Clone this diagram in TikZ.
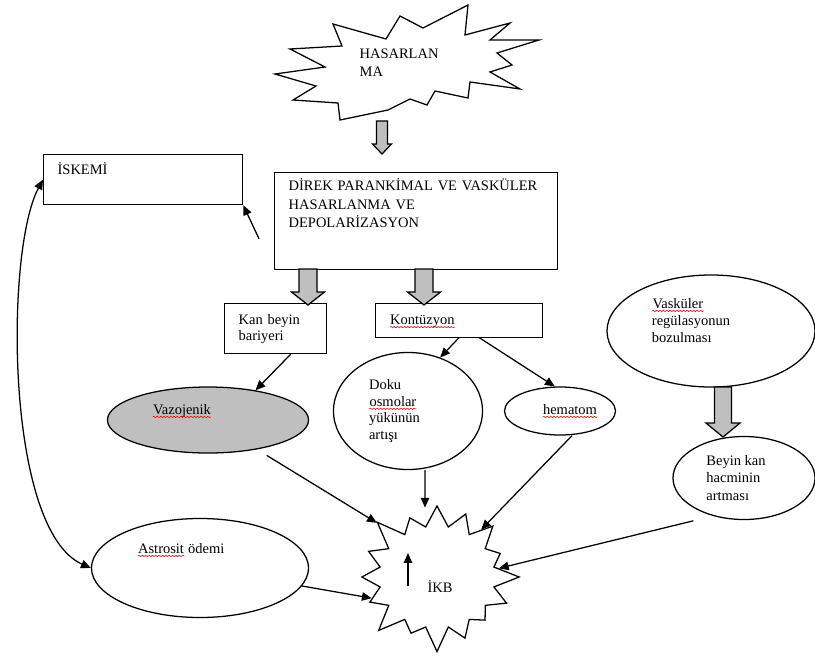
\documentclass[tikz,border=0pt]{standalone}
\usepackage{fontspec}
\setmainfont{Liberation Serif}
\usepackage{xcolor}
\usetikzlibrary{shapes.geometric,shapes.symbols,arrows.meta,positioning,calc,decorations.pathmorphing}

% red wavy spell-check line under a word
\newcommand{\spellerr}[1]{\tikz[baseline=(w.base)]{\node[inner sep=0pt] (w) {#1};
  \draw[red, line width=0.4pt, decorate, decoration={snake, amplitude=0.5pt, segment length=2.4pt}]
    ([yshift=-2pt]w.base west) -- ([yshift=-2pt]w.base east);}}

% gray block arrow: from, to, half shaft, half head, head length (px)
\newcommand{\fatarrow}[5]{%
  \draw[fill=gray!50] ($(#1)+(-#3,0)$) -- ($(#2)+(-#3,-#5)$) -- ($(#2)+(-#4,-#5)$) -- (#2)
    -- ($(#2)+(#4,-#5)$) -- ($(#2)+(#3,-#5)$) -- ($(#1)+(#3,0)$) -- cycle;}

\tikzset{
  box/.style={rectangle, draw, align=left, inner xsep=0.35cm, inner ysep=0pt},
  oval/.style={ellipse, draw, inner sep=0pt},
}

\begin{document}
\begin{tikzpicture}[x=0.025cm, y=-0.025cm, line width=0.9pt, >={Triangle[length=7pt,width=6pt]}, font=\fontsize{10.3}{12.5}\selectfont]
    \useasboundingbox (0,0) rectangle (815,657);

    % top burst
    \draw (275,74) -- (316,86) -- (293,100) -- (338,103) -- (340,120) -- (388,110) -- (410,99) -- (427,105)
      -- (435,91) -- (468,98) -- (470,82) -- (520,89) -- (490,72) -- (512,65) -- (497,53) -- (539,40)
      -- (490,40) -- (510,23) -- (465,35) -- (468,5) -- (423,28) -- (400,16) -- (386,39) -- (333,24)
      -- (342,46) -- (290,49) -- (325,67) -- cycle;
    \node (hasar) [anchor=west, align=left, inner sep=0pt, font=\fontsize{10.3}{12.8}\selectfont] at (359,63) {HASARLAN\\MA};

    \node (iskemi) [box, anchor=north west, text width=4.275cm, text height=0.5cm, text depth=0.75cm] at (43,154) {İSKEMİ};
    \node (direk) [box, anchor=north west, text width=6.375cm, text height=0.45cm, text depth=1.975cm, font=\fontsize{10.3}{13.1}\selectfont] at (274,172) {DİREK PARANKİMAL VE VASKÜLER\\HASARLANMA VE\\DEPOLARİZASYON};
    \node (kan) [box, anchor=north west, text width=1.85cm, text height=0.525cm, text depth=0.725cm, font=\fontsize{10.3}{11.3}\selectfont] at (224,303) {Kan beyin\\bariyeri};
    \node (kont) [box, right=1.2cm of kan.north east, anchor=north west, text width=3.475cm, text height=0.525cm, text depth=0.325cm] {\spellerr{Kontüzyon}};

    \node (vazo) [oval, fill=gray!50, minimum width=5.025cm, minimum height=1.65cm, label={[xshift=-0.65cm, yshift=0.225cm]center:\spellerr{Vazojenik}}] at (208,420) {};
    \node (doku) [oval, minimum width=3.725cm, minimum height=2.925cm, label={[align=left, xshift=-0.34cm, font=\fontsize{10.3}{12}\selectfont]center:Doku\\\spellerr{osmolar}\\yükünün\\artışı}] at (408,411) {};
    \node (hemat) [oval, minimum width=2.775cm, minimum height=1.2cm, label={[xshift=0.25cm]center:\spellerr{hematom}}] at (560,411) {};
    \node (vask) [oval, minimum width=5.2cm, minimum height=2.8cm, label={[align=left, xshift=-0.5cm, yshift=0.26cm, font=\fontsize{10.3}{12.4}\selectfont]center:\spellerr{Vasküler}\\regülasyonun\\bozulması}] at (711,331) {};
    \node (beyin) [oval, minimum width=3.55cm, minimum height=2.075cm, label={[align=left, xshift=-0.2cm]center:Beyin kan\\hacminin\\artması}] at (744,478) {};
    \node (astro) [oval, minimum width=5.425cm, minimum height=2.475cm, label={[xshift=-0.475cm, yshift=0.45cm]center:\spellerr{Astrosit} ödemi}] at (200,568) {};
    \node (ikb) [starburst, draw, starburst points=16, starburst point height=0.7cm, minimum width=4.3cm, minimum height=3.95cm, inner sep=0pt, label={[xshift=0.075cm, yshift=-0.25cm]center:İKB}] at (437,577) {};

    % block arrows
    \coordinate (h1) at (382,121);
    \coordinate (h2) at (382,154);
    \coordinate (k1) at (308,269);
    \coordinate (k2) at (308,305);
    \coordinate (c1) at (424,269);
    \coordinate (c2) at (424,305);
    \coordinate (v1) at (723,387);
    \coordinate (v2) at (723,437);
    \fatarrow{h1}{h2}{5.5}{9.5}{10}
    \fatarrow{k1}{k2}{9}{16.5}{13}
    \fatarrow{c1}{c2}{9}{16.5}{13}
    \fatarrow{v1}{v2}{8.5}{17}{14}

    \draw [->] ([xshift=-0.375cm, yshift=-0.44cm]direk.west) -- (iskemi.south east);
    \draw [<->] (iskemi.west) .. controls (5,250) and (5,530) .. (astro.west);
    \draw [->] ([xshift=0.375cm]kan.south) -- (vazo.32);
    \draw [->] (kont.south) -- (doku.59);
    \draw [->] ([xshift=0.5cm]kont.south) -- (hemat.102);
    \draw [->] ([yshift=-0.2cm]vazo.-25) -- (ikb.138);
    \draw [->] ([xshift=0.425cm]doku.south) -- ([xshift=-0.3cm, yshift=-0.075cm]ikb.north);
    \draw [->] ([xshift=0.3cm]hemat.south) -- (ikb.47);
    \draw [->] ([yshift=-0.325cm]beyin.south west) -- (ikb.8);
    \draw [->] (astro.-10) -- (ikb.198);
    \draw [->] ([xshift=-0.725cm, yshift=-0.225cm]ikb.center) -- ++(0,-33);
\end{tikzpicture}
\end{document}
